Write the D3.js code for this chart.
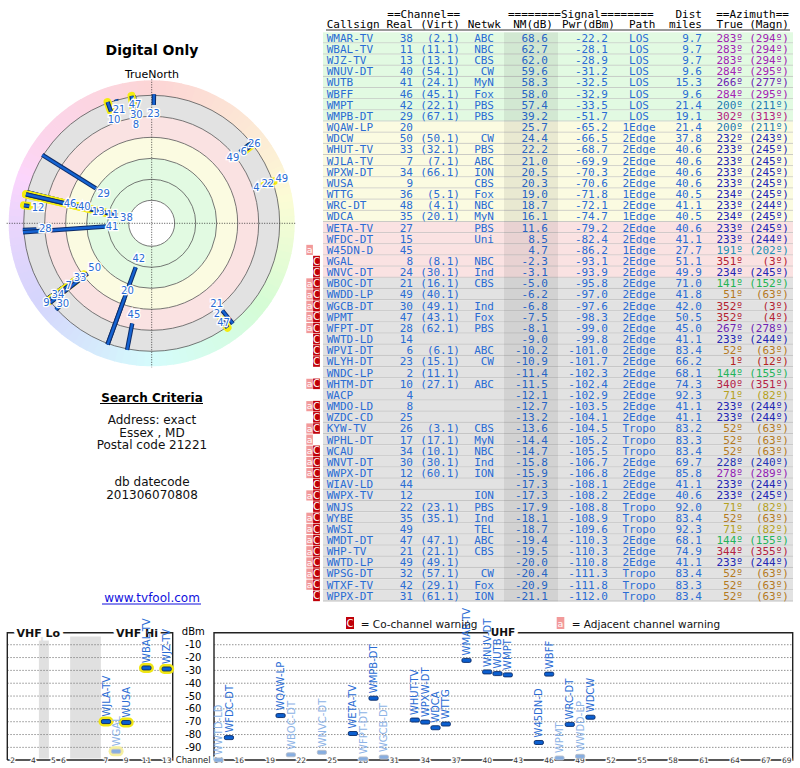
<!DOCTYPE html>
<html lang="en">
<head>
<meta charset="UTF-8">
<title>tvfool signal report</title>
<script src="https://d3js.org/d3.v7.min.js"></script>
<style>
  body { margin: 0; background: #fff; }
  text { font-family: "DejaVu Sans", sans-serif; }
  .mono { font-family: "DejaVu Sans Mono", monospace; font-size: 11px; }
</style>
</head>
<body>
<script>
// ---- data ----
var callsigns = ["WMAR-TV","WBAL-TV","WJZ-TV","WNUV-DT","WUTB","WBFF","WMPT","WMPB-DT","WQAW-LP","WDCW",
  "WHUT-TV","WJLA-TV","WPXW-DT","WUSA","WTTG","WRC-DT","WDCA","WETA-TV","WFDC-DT","W45DN-D",
  "WGAL","WNVC-DT","WBOC-DT","WWDD-LP","WGCB-DT","WPMT","WFPT-DT","WWTD-LD","WPVI-DT","WLYH-DT",
  "WNDC-LP","WHTM-DT","WACP","WMDO-LD","WZDC-CD","KYW-TV","WPHL-DT","WCAU","WNVT-DT","WWPX-DT",
  "WIAV-LD","WWPX-TV","WNJS","WYBE","WWSI","WMDT-DT","WHP-TV","WWTD-LP","WPSG-DT","WTXF-TV","WPPX-DT"];
var realCh = [38,11,13,40,41,46,42,29,20,50, 33,7,34,9,36,48,35,27,15,45,
  8,24,21,49,30,47,28,14,6,23, 2,10,4,8,25,26,17,34,30,12, 44,12,22,35,49,47,21,49,32,42,31];
var virtCh = ["2.1","11.1","13.1","54.1","24.1","45.1","22.1","67.1","","50.1",
  "32.1","7.1","66.1","","5.1","4.1","20.1","","","",
  "8.1","30.1","16.1","40.1","49.1","43.1","62.1","","6.1","15.1",
  "11.1","27.1","","","","3.1","17.1","10.1","30.1","60.1",
  "","","23.1","35.1","","47.1","21.1","49.1","57.1","29.1","61.1"];
var networks = ["ABC","NBC","CBS","CW","MyN","Fox","PBS","PBS","","CW",
  "PBS","ABC","ION","CBS","Fox","NBC","MyN","PBS","Uni","",
  "NBC","Ind","CBS","","Ind","Fox","PBS","","ABC","CW",
  "","ABC","","","","CBS","MyN","NBC","Ind","ION",
  "","ION","PBS","Ind","TEL","ABC","CBS","","CW","Fox","ION"];
var nmDb = [68.6,62.7,62.0,59.6,58.3,58.0,57.4,39.2,25.7,24.4,
  22.2,21.0,20.5,20.3,19.0,18.7,16.1,11.6,8.5,4.7,
  -2.3,-3.1,-5.0,-6.2,-6.8,-7.5,-8.1,-9.0,-10.2,-10.9,
  -11.4,-11.5,-12.1,-12.7,-13.2,-13.6,-14.4,-14.7,-15.8,-15.9,
  -17.3,-17.3,-17.9,-18.1,-18.7,-19.4,-19.5,-20.0,-20.4,-20.9,-21.1];
var pwrDbm = [-22.2,-28.1,-28.9,-31.2,-32.5,-32.9,-33.5,-51.7,-65.2,-66.5,
  -68.7,-69.9,-70.3,-70.6,-71.8,-72.1,-74.7,-79.2,-82.4,-86.2,
  -93.1,-93.9,-95.8,-97.0,-97.6,-98.3,-99.0,-99.8,-101.0,-101.7,
  -102.3,-102.4,-102.9,-103.5,-104.1,-104.5,-105.2,-105.5,-106.7,-106.8,
  -108.1,-108.2,-108.8,-108.9,-109.6,-110.3,-110.3,-110.8,-111.3,-111.8,-112.0];
var paths = ["LOS","LOS","LOS","LOS","LOS","LOS","LOS","LOS","1Edge","2Edge",
  "2Edge","2Edge","2Edge","2Edge","1Edge","2Edge","1Edge","2Edge","2Edge","1Edge",
  "2Edge","2Edge","2Edge","2Edge","2Edge","2Edge","2Edge","2Edge","2Edge","2Edge",
  "2Edge","2Edge","2Edge","2Edge","2Edge","Tropo","Tropo","Tropo","2Edge","2Edge",
  "2Edge","2Edge","Tropo","Tropo","Tropo","2Edge","2Edge","2Edge","Tropo","Tropo","Tropo"];
var distMi = [9.7,9.7,9.7,9.6,15.3,9.6,21.4,19.1,21.4,37.8,
  40.6,40.6,40.6,40.6,40.5,41.1,40.5,40.6,41.1,27.7,
  51.1,49.9,71.0,41.8,42.0,50.5,45.0,41.1,83.4,66.2,
  68.1,74.3,92.3,41.1,41.1,83.2,83.3,83.4,69.7,85.8,
  41.1,40.6,92.0,83.4,92.3,68.1,74.9,41.1,83.4,83.3,83.4];
var azTrue = [283,283,283,284,266,284,200,302,200,232,
  233,233,233,233,234,233,234,233,233,191,
  351,234,141,51,352,352,267,233,52,1,
  144,340,71,233,233,52,52,52,228,278,
  233,233,71,52,71,144,344,233,52,52,52];
var azMagn = [294,294,294,295,277,295,211,313,211,243,
  245,245,245,245,245,244,245,245,244,202,
  3,245,152,63,3,4,278,244,63,12,
  155,351,82,244,244,63,63,63,240,289,
  244,245,82,63,82,155,355,244,63,63,63];
var adjWarn = [0,0,0,0,0,0,0,0,0,0, 0,0,0,0,0,0,0,0,0,1,
  0,0,1,1,1,1,1,0,0,0, 0,1,0,1,0,1,1,1,1,1, 0,1,0,1,1,1,1,1,1,1, 0];
var coWarn = [0,0,0,0,0,0,0,0,0,0, 0,0,0,0,0,0,0,0,0,0,
  1,1,1,1,1,1,1,1,1,1, 0,1,0,1,1,1,0,1,1,1, 1,1,1,1,1,1,1,1,1,1, 1];

var ringLevels = [80, 60, 40, 20, 0, -20];
var vhfTicks = [2, 4, 5, 6, 7, 9, 11, 13];
var uhfTicks = [14,16,19,22,25,28,31,34,37,40,43,46,49,52,55,58,61,64,67,69];
var dbmTicks = [-10,-20,-30,-40,-50,-60,-70,-80,-90];

// ---- setup ----
var width = 800, height = 768;
var blue = "#2a6cd4";
var svg = d3.select("body").append("svg")
  .attr("width", width).attr("height", height);

var zoneFill = { green: "#e2fae2", yellow: "#fbfbe1", pink: "#fae2e2", gray: "#e2e2e2" };
function zoneOf(nm) {
  return nm >= 30 ? "green" : nm >= 14 ? "yellow" : nm >= -4 ? "pink" : "gray";
}
var hueOf = d3.scaleLinear()
  .domain([0, 52, 71, 141, 200, 233, 266, 283, 302, 340, 360])
  .range([0, 36, 52, 140, 204, 238, 270, 292, 322, 345, 360]);
function azColor(a) { return d3.hsl(hueOf(a), 0.68, 0.42).toString(); }

// ---- left column text ----
svg.append("text").attr("x", 152).attr("y", 55).attr("text-anchor", "middle")
  .style("font-size", "14px").style("font-weight", "bold").text("Digital Only");
svg.append("text").attr("x", 152).attr("y", 78).attr("text-anchor", "middle")
  .style("font-size", "11px").text("TrueNorth");

// ---- radar plot ----
var cx = 151.7, cy = 223.3;
var rScale = d3.scaleLinear().domain([0, -20]).range([107, 128]);
var polar = svg.append("g").attr("transform", "translate(" + cx + "," + cy + ")");
var arc = d3.arc();

d3.range(0, 360, 3).forEach(function (a) {
  polar.append("path")
    .attr("d", arc({ innerRadius: 126, outerRadius: 143,
      startAngle: a * Math.PI / 180, endAngle: (a + 3.3) * Math.PI / 180 }))
    .attr("fill", d3.hsl(hueOf(a), 0.85, 0.91).toString());
});

var bands = [[80, 40, "green"], [40, 20, "yellow"], [20, 0, "pink"], [0, -20, "gray"]];
bands.forEach(function (b) {
  polar.append("path")
    .attr("d", arc({ innerRadius: rScale(b[0]), outerRadius: rScale(b[1]),
      startAngle: 0, endAngle: 2 * Math.PI }))
    .attr("fill", zoneFill[b[2]]);
});
polar.append("circle").attr("r", rScale(80)).attr("fill", "#fff");
polar.selectAll(".ring").data(ringLevels).enter().append("circle")
  .attr("class", "ring")
  .attr("r", function (d) { return rScale(d); })
  .attr("fill", "none").attr("stroke", "#555").attr("stroke-width", 0.8);

polar.append("line").attr("x1", 0).attr("x2", 0).attr("y1", -144).attr("y2", 144)
  .attr("stroke", "#222").attr("stroke-width", 0.8).attr("stroke-dasharray", "1,1.5");
polar.append("line").attr("y1", 0).attr("y2", 0).attr("x1", -145).attr("x2", 145)
  .attr("stroke", "#222").attr("stroke-width", 0.8).attr("stroke-dasharray", "1,1.5");

function polarPt(az, r) {
  var a = az * Math.PI / 180;
  return [r * Math.sin(a), -r * Math.cos(a)];
}

var order = d3.range(callsigns.length).reverse();
var rOuter = rScale(-20);
order.forEach(function (i) {
  var r1 = Math.min(rScale(nmDb[i]), rOuter), r2 = Math.max(rScale(nmDb[i]), rOuter + 1);
  var p1 = polarPt(azTrue[i], r1), p2 = polarPt(azTrue[i], r2);
  if (realCh[i] <= 13) {
    polar.append("line").attr("x1", p1[0]).attr("y1", p1[1]).attr("x2", p2[0]).attr("y2", p2[1])
      .attr("stroke", "#f4ec10").attr("stroke-width", 8).attr("stroke-linecap", "round");
  }
  polar.append("line").attr("x1", p1[0]).attr("y1", p1[1]).attr("x2", p2[0]).attr("y2", p2[1])
    .attr("stroke", "#0e2c68").attr("stroke-width", 4.4);
  polar.append("line").attr("x1", p1[0]).attr("y1", p1[1]).attr("x2", p2[0]).attr("y2", p2[1])
    .attr("stroke", "#1563d2").attr("stroke-width", 2.4);
});

// channel labels pushed outward along the ray until they no longer collide
var placed = [];
callsigns.forEach(function (c, i) {
  var w = String(realCh[i]).length * 6.4 + 1, h = 9;
  for (var r = rScale(nmDb[i]) - 9; r <= 140; r += 1) {
    var p = polarPt(azTrue[i], r);
    var hit = placed.some(function (q) {
      return Math.abs(q.x - p[0]) < (q.w + w) / 2 && Math.abs(q.y - p[1]) < (q.h + h) / 2;
    });
    if (!hit) { placed.push({ x: p[0], y: p[1], w: w, h: h, t: realCh[i] }); break; }
  }
});
polar.selectAll(".lab").data(placed).enter().append("text")
  .attr("class", "lab")
  .attr("x", function (d) { return d.x; })
  .attr("y", function (d) { return d.y; })
  .attr("dy", "0.36em").attr("text-anchor", "middle")
  .style("font-size", "10px").style("paint-order", "stroke")
  .attr("stroke", "#fff").attr("stroke-width", 2.6).attr("fill", blue)
  .text(function (d) { return d.t; });

// ---- search criteria ----
svg.append("text").attr("x", 152).attr("y", 401.5).attr("text-anchor", "middle")
  .style("font-size", "12px").style("font-weight", "bold").text("Search Criteria");
svg.append("line").attr("x1", 100).attr("x2", 203).attr("y1", 403.5).attr("y2", 403.5)
  .attr("stroke", "#000").attr("stroke-width", 1);
var infoLines = [["Address: exact", 424], ["Essex , MD", 436.5], ["Postal code 21221", 449],
  ["db datecode", 486], ["201306070808", 498.5]];
infoLines.forEach(function (l) {
  svg.append("text").attr("x", 152).attr("y", l[1]).attr("text-anchor", "middle")
    .style("font-size", "12px").attr("fill", "#111").text(l[0]);
});
svg.append("text").attr("x", 152).attr("y", 602).attr("text-anchor", "middle")
  .style("font-size", "12px").attr("fill", "#1010dd").text("www.tvfool.com");
svg.append("line").attr("x1", 102).attr("x2", 201).attr("y1", 604).attr("y2", 604)
  .attr("stroke", "#1010dd").attr("stroke-width", 1);

// ---- station table ----
var n = callsigns.length;
var rowBand = d3.scaleBand().domain(d3.range(n)).range([32.3, 32.3 + n * 11.16]);
var rowH = rowBand.bandwidth();
var table = svg.append("g");

var hdr1 = [["==Channel==", 387.3, "start"], ["========Signal========", 508, "start"],
  ["Dist", 702, "end"], ["==Azimuth==", 789, "end"]];
var hdr2 = [["Callsign", 326.7, "start"], ["Real", 413, "end"], ["(Virt)", 460, "end"],
  ["Netwk", 467.7, "start"], ["NM(dB)", 553, "end"], ["Pwr(dBm)", 615, "end"],
  ["Path", 629, "start"], ["miles", 702, "end"], ["True", 743, "end"], ["(Magn)", 789, "end"]];
hdr1.forEach(function (h) {
  table.append("text").attr("class", "mono").attr("x", h[1]).attr("y", 18.3)
    .attr("text-anchor", h[2]).text(h[0]);
});
hdr2.forEach(function (h) {
  table.append("text").attr("class", "mono").attr("x", h[1]).attr("y", 28.3)
    .attr("text-anchor", h[2]).text(h[0]);
});
table.append("line").attr("x1", 326).attr("x2", 790).attr("y1", 30).attr("y2", 30)
  .attr("stroke", "#000").attr("stroke-width", 0.8);

var rows = table.selectAll(".row").data(d3.range(n)).enter().append("g")
  .attr("class", "row")
  .attr("transform", function (i) { return "translate(0," + rowBand(i) + ")"; });
rows.append("rect").attr("x", 323).attr("width", 470).attr("height", rowH)
  .attr("fill", function (i) { return zoneFill[zoneOf(nmDb[i])]; });
rows.append("line").attr("x1", 323).attr("x2", 793).attr("y1", rowH - 0.5).attr("y2", rowH - 0.5)
  .attr("stroke", "#bdbdbd").attr("stroke-width", 0.8);

table.append("rect").attr("x", 504).attr("width", 54)
  .attr("y", rowBand(0)).attr("height", n * rowH)
  .attr("fill", "#000").attr("opacity", 0.07);

var tableCols = [
  { x: 326.7, anchor: "start", get: function (i) { return callsigns[i]; } },
  { x: 413, anchor: "end", get: function (i) { return realCh[i]; } },
  { x: 460, anchor: "end", get: function (i) { return virtCh[i] ? "(" + virtCh[i] + ")" : ""; } },
  { x: 494, anchor: "end", get: function (i) { return networks[i]; } },
  { x: 548, anchor: "end", get: function (i) { return nmDb[i].toFixed(1); } },
  { x: 608, anchor: "end", get: function (i) { return pwrDbm[i].toFixed(1); } },
  { x: 639, anchor: "middle", get: function (i) { return paths[i]; } },
  { x: 702, anchor: "end", get: function (i) { return distMi[i].toFixed(1); } },
  { x: 743, anchor: "end", az: true, get: function (i) { return azTrue[i] + "\u00BA"; } },
  { x: 789, anchor: "end", az: true, get: function (i) { return "(" + azMagn[i] + "\u00BA)"; } }
];
tableCols.forEach(function (col) {
  rows.append("text").attr("class", "mono")
    .attr("x", col.x).attr("y", rowH / 2 + 3.9)
    .attr("text-anchor", col.anchor)
    .attr("fill", function (i) { return col.az ? azColor(azTrue[i]) : blue; })
    .text(col.get);
});

// warning flags
var adjRows = rows.filter(function (i) { return adjWarn[i]; });
adjRows.append("rect").attr("x", 306.3).attr("y", 0.5).attr("width", 6.6).attr("height", rowH - 1)
  .attr("fill", "#f29a9a");
adjRows.append("text").attr("x", 309.6).attr("y", rowH / 2 + 3.3).attr("text-anchor", "middle")
  .style("font-size", "9.5px").attr("fill", "#fff").text("a");
var coRows = rows.filter(function (i) { return coWarn[i]; });
coRows.append("rect").attr("x", 313.1).attr("y", 0.3).attr("width", 6.8).attr("height", rowH - 0.6)
  .attr("fill", "#c00008");
coRows.append("text").attr("x", 316.5).attr("y", rowH / 2 + 3.6).attr("text-anchor", "middle")
  .style("font-size", "10px").attr("fill", "#fff").text("C");

// ---- spectrum chart ----
var yDbm = d3.scaleLinear().domain([0, -100]).range([631.9, 760.2]);
var xVhf = d3.scaleLinear().domain([2, 4, 5, 6, 7, 13]).range([12.7, 33.3, 53.3, 63.3, 106, 166.7]);
var xUhf = d3.scaleLinear().domain([14, 69]).range([218.6, 786.7]);
var vhfGaps = [[4.28, 4.78], [6.16, 6.88]];
var panels = [
  { x0: 7.3, x1: 172.7, scale: xVhf, ticks: vhfTicks },
  { x0: 214, x1: 792.7, scale: xUhf, ticks: uhfTicks }
];
var topY = 632.7, botY = 760;
var chart = svg.append("g");

vhfGaps.forEach(function (g) {
  chart.append("rect").attr("x", xVhf(g[0])).attr("width", xVhf(g[1]) - xVhf(g[0]))
    .attr("y", 636.5).attr("height", botY - 636.5 - 1.5).attr("fill", "#e0e0e0");
});

panels.forEach(function (p) {
  chart.selectAll(null).data(dbmTicks).enter().append("line")
    .attr("x1", p.x0).attr("x2", p.x1)
    .attr("y1", function (d) { return yDbm(d); }).attr("y2", function (d) { return yDbm(d); })
    .attr("stroke", "#777").attr("stroke-width", 0.8).attr("stroke-dasharray", "1.5,1.5");
  chart.append("path")
    .attr("d", "M" + p.x0 + "," + botY + "V" + topY + "H" + p.x1 + "V" + botY + "H" + p.x0)
    .attr("fill", "none").attr("stroke", "#222").attr("stroke-width", 1.4);
  chart.selectAll(null).data(p.ticks).enter().append("text")
    .attr("x", function (d) { return p.scale(d); }).attr("y", botY).attr("dy", "0.35em")
    .attr("text-anchor", "middle").style("font-size", "7.5px").attr("fill", "#333")
    .style("paint-order", "stroke").attr("stroke", "#fff").attr("stroke-width", 2.5)
    .text(function (d) { return d; });
});

// band titles breaking the top frame line
var bandTitles = [["VHF Lo", 38.3, 11], ["VHF Hi", 137, 11], ["UHF", 503, 10.5]];
bandTitles.forEach(function (b) {
  chart.append("text").attr("x", b[1]).attr("y", topY).attr("dy", "0.36em")
    .attr("text-anchor", "middle").style("font-size", b[2] + "px").style("font-weight", "bold")
    .style("paint-order", "stroke").attr("stroke", "#fff").attr("stroke-width", 7)
    .attr("fill", "#111").text(b[0]);
});

chart.append("text").attr("x", 193.3).attr("y", yDbm(0)).attr("dy", "0.35em")
  .attr("text-anchor", "middle").style("font-size", "10px").text("dBm");
chart.selectAll(null).data(dbmTicks).enter().append("text")
  .attr("x", 193.3).attr("y", function (d) { return yDbm(d); }).attr("dy", "0.35em")
  .attr("text-anchor", "middle").style("font-size", "10px")
  .text(function (d) { return d; });
chart.append("text").attr("x", 210.7).attr("y", botY).attr("dy", "0.35em")
  .attr("text-anchor", "end").style("font-size", "8.5px").attr("fill", "#222").text("Channel");

// stations (only those with NM above -10 dB)
var shown = d3.range(n).filter(function (i) { return nmDb[i] > -10; });
function chX(i) { return realCh[i] <= 13 ? xVhf(realCh[i]) : xUhf(realCh[i]); }
var marks = chart.selectAll(".mk").data(shown).enter().append("g").attr("class", "mk")
  .attr("transform", function (i) { return "translate(" + chX(i) + "," + yDbm(pwrDbm[i]) + ")"; });
marks.filter(function (i) { return realCh[i] <= 13; }).append("rect")
  .attr("x", -7.5).attr("y", -5).attr("width", 15).attr("height", 10).attr("rx", 5)
  .attr("fill", function (i) { return nmDb[i] >= 0 ? "#f0e614" : "#f5efa0"; });
marks.append("rect").attr("x", -4.6).attr("y", -2).attr("width", 9.2).attr("height", 4).attr("rx", 1.5)
  .attr("fill", function (i) { return nmDb[i] >= 0 ? "#0b5fd0" : "#87aee0"; })
  .attr("stroke", function (i) { return nmDb[i] >= 0 ? "#0a2a66" : "#b9bfcc"; })
  .attr("stroke-width", 0.9);
marks.append("text")
  .attr("transform", "translate(0,-5) rotate(-90)")
  .attr("dy", "0.36em").style("font-size", "10px")
  .attr("fill", function (i) { return nmDb[i] >= 0 ? blue : "#8db3e6"; })
  .text(function (i) { return callsigns[i]; });

// legend
chart.append("rect").attr("x", 346).attr("y", 617).attr("width", 8).attr("height", 12).attr("fill", "#c00008");
chart.append("text").attr("x", 350).attr("y", 627).attr("text-anchor", "middle")
  .style("font-size", "10px").attr("fill", "#fff").text("C");
chart.append("text").attr("x", 360.7).attr("y", 627.5).style("font-size", "10.5px")
  .attr("fill", "#111").text("= Co-channel warning");
chart.append("rect").attr("x", 556.7).attr("y", 617).attr("width", 7.6).attr("height", 12).attr("fill", "#f29a9a");
chart.append("text").attr("x", 560.5).attr("y", 626.5).attr("text-anchor", "middle")
  .style("font-size", "9.5px").attr("fill", "#fff").text("a");
chart.append("text").attr("x", 571.7).attr("y", 627.5).style("font-size", "10.5px")
  .attr("fill", "#111").text("= Adjacent channel warning");
</script>
</body>
</html>
